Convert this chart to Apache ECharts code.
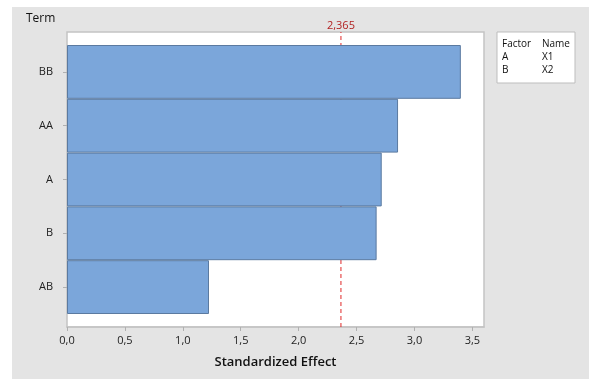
<!DOCTYPE html>
<html><head><meta charset="utf-8">
<script src="https://cdn.jsdelivr.net/npm/echarts@6/dist/echarts.min.js"></script>
<style>html,body{margin:0;padding:0;background:#fff}#c{width:589px;height:379px}</style>
</head><body><div id="c"></div>
<script>
const terms = ['BB', 'AA', 'A', 'B', 'AB'];
const effects = [3.40, 2.858, 2.717, 2.673, 1.226];
const refValue = 2.365;
const refLabel = '2,365';
const xTicks = [0, 0.5, 1.0, 1.5, 2.0, 2.5, 3.0, 3.5];
const legendFactors = ['A', 'B'];
const legendNames = ['X1', 'X2'];

const font = '"Open Sans", "Noto Sans", sans-serif';
const chart = echarts.init(document.getElementById('c'), null, {renderer: 'canvas'});
const fmt = v => v.toFixed(1).replace('.', ',');

const graphics = [
  {type: 'rect', z: -10, shape: {x: 12, y: 7, width: 577, height: 372}, style: {fill: '#e4e4e4'}},
  {type: 'rect', z: 5, shape: {x: 497, y: 32, width: 78, height: 51}, style: {fill: '#fff', stroke: '#bdbdbd', lineWidth: 1}},
  {type: 'text', z: 6, x: 26, y: 13, style: {text: 'Term', font: '12px ' + font, fill: '#111'}},
  {type: 'text', z: 6, x: 502, y: 39, style: {text: 'Factor', font: '10px ' + font, fill: '#111'}},
  {type: 'text', z: 6, x: 542, y: 39, style: {text: 'Name', font: '10px ' + font, fill: '#111'}}
];
legendFactors.forEach((f, i) => {
  graphics.push({type: 'text', z: 6, x: 502, y: 52 + i * 13, style: {text: f, font: '10px ' + font, fill: '#111'}});
  graphics.push({type: 'text', z: 6, x: 542, y: 52 + i * 13, style: {text: legendNames[i], font: '10px ' + font, fill: '#111'}});
});

chart.setOption({
  animation: false,
  backgroundColor: '#ffffff',
  textStyle: {fontFamily: font},
  graphic: graphics,
  grid: [
    {left: 67, right: 105, top: 32, bottom: 52, show: true, backgroundColor: '#fff', borderColor: '#c4c4c4', borderWidth: 1.5},
    {left: 67, right: 105, top: 45, bottom: 65}
  ],
  xAxis: [
    {gridIndex: 0, type: 'value', min: 0, max: 3.6, interval: 0.5,
     splitLine: {show: false},
     axisLine: {show: true, lineStyle: {color: '#c4c4c4', width: 1.5}},
     axisTick: {show: true, length: 4, lineStyle: {color: '#b0b0b0'}, customValues: xTicks},
     axisLabel: {color: '#222', fontSize: 11, margin: 8, customValues: xTicks, formatter: fmt},
     name: 'Standardized Effect', nameLocation: 'middle', nameGap: 29,
     nameTextStyle: {fontSize: 13, fontWeight: 600, color: '#111'}},
    {gridIndex: 1, type: 'value', min: 0, max: 3.6, show: false}
  ],
  yAxis: [
    {gridIndex: 0, type: 'value', min: 0, max: 1, show: false},
    {gridIndex: 1, type: 'category', inverse: true, data: terms,
     axisLine: {show: false},
     axisTick: {show: true, length: 4, alignWithLabel: true, lineStyle: {color: '#b0b0b0'}},
     axisLabel: {color: '#222', fontSize: 11, margin: 14}}
  ],
  series: [
    {type: 'line', xAxisIndex: 0, yAxisIndex: 0, z: 1, silent: true,
     symbol: 'circle', symbolSize: 0, showSymbol: true,
     lineStyle: {color: '#e02828', type: [4, 3], width: 1},
     itemStyle: {color: '#e02828'},
     data: [[refValue, 0], {value: [refValue, 1], label: {show: true, position: 'top', distance: 1, formatter: refLabel, color: '#b22222', fontSize: 11}}]},
    {type: 'bar', xAxisIndex: 1, yAxisIndex: 1, data: effects, barWidth: '100%', barCategoryGap: 0, z: 10, zlevel: 1,
     itemStyle: {color: '#7ba6da', borderColor: '#5b7aa0', borderWidth: 1, opacity: 1}}
  ]
});
</script></body></html>
